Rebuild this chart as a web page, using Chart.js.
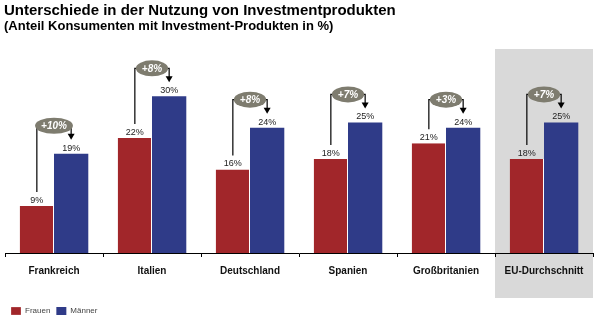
<!DOCTYPE html>
<html><head><meta charset="utf-8">
<script src="https://cdn.jsdelivr.net/npm/chart.js@4"></script>
<style>html,body{margin:0;padding:0;background:#fff}#wrap{width:604px;height:327px;position:relative}</style>
</head><body><div id="wrap"><canvas id="c" width="604" height="327"></canvas></div>
<script>
const categories = ["Frankreich","Italien","Deutschland","Spanien","Großbritanien","EU-Durchschnitt"];
const frauen = [9,22,16,18,21,18];
const maenner = [19,30,24,25,24,25];
const differenz = ["+10%","+8%","+8%","+7%","+3%","+7%"];
const seriesNames = ["Frauen","Männer"];
const titleText = "Unterschiede in der Nutzung von Investmentprodukten";
const subtitleText = "(Anteil Konsumenten mit Investment-Produkten in %)";

const RED = "#A1262A", BLUE = "#2F3B88";

const deco = {
  id: 'deco',
  beforeDraw(chart) {
    const ctx = chart.ctx, x = chart.scales.x;
    const last = categories.length - 1;
    const w = x.getPixelForValue(1) - x.getPixelForValue(0);
    const cx = x.getPixelForValue(last);
    ctx.save();
    ctx.fillStyle = "#D9D9D9";
    ctx.fillRect(cx - w/2, 49, w, 249);
    ctx.restore();
  },
  afterDraw(chart) {
    const ctx = chart.ctx;
    ctx.save();
    ctx.fillStyle = "#000";
    ctx.textBaseline = "alphabetic";
    ctx.textAlign = "left";
    ctx.font = "bold 15px Arial, 'Liberation Sans', sans-serif";
    ctx.fillText(titleText, 4, 15);
    ctx.font = "bold 13px Arial, 'Liberation Sans', sans-serif";
    ctx.fillText(subtitleText, 4, 30);
    ctx.font = "9px Arial, 'Liberation Sans', sans-serif";
    ctx.fillStyle = "#222";
    ctx.textAlign = "center";
    const m0 = chart.getDatasetMeta(0).data, m1 = chart.getDatasetMeta(1).data;
    const ds = chart.data.datasets;
    m0.forEach((b,i)=>{ ctx.fillText(ds[0].data[i] + "%", b.x, b.y - 3); });
    m1.forEach((b,i)=>{ ctx.fillText(ds[1].data[i] + "%", b.x, b.y - 3); });
    m0.forEach((b,i)=>{
      const bb = m1[i];
      const by = bb.y - 28;
      const mx = (b.x + bb.x)/2;
      ctx.font = "italic bold 10px Arial, 'Liberation Sans', sans-serif";
      const tw = ctx.measureText(differenz[i]).width;
      const rx = tw/2 + 6, ry = 8;
      ctx.strokeStyle = "#000"; ctx.lineWidth = 1.2;
      ctx.beginPath();
      ctx.moveTo(b.x, b.y - 14);
      ctx.lineTo(b.x, by);
      ctx.lineTo(mx - rx + 1, by);
      ctx.moveTo(mx + rx - 1, by);
      ctx.lineTo(bb.x, by);
      ctx.lineTo(bb.x, bb.y - 19);
      ctx.stroke();
      ctx.fillStyle = "#000";
      ctx.beginPath();
      ctx.moveTo(bb.x - 3.5, bb.y - 20);
      ctx.lineTo(bb.x + 3.5, bb.y - 20);
      ctx.lineTo(bb.x, bb.y - 14);
      ctx.closePath(); ctx.fill();
      ctx.fillStyle = "#7E7C6F";
      ctx.beginPath();
      ctx.ellipse(mx, by, rx, ry, 0, 0, Math.PI*2);
      ctx.fill();
      ctx.fillStyle = "#fff";
      ctx.textBaseline = "middle";
      ctx.fillText(differenz[i], mx, by + 0.5);
      ctx.textBaseline = "alphabetic";
    });
    ctx.restore();
  }
};

new Chart(document.getElementById('c'), {
  type: 'bar',
  data: {
    labels: categories,
    datasets: [
      { label: seriesNames[0], data: frauen, backgroundColor: RED, borderColor: "#fff", borderWidth: {right:1}, borderSkipped: 'bottom' },
      { label: seriesNames[1], data: maenner, backgroundColor: BLUE }
    ]
  },
  options: {
    responsive: false,
    animation: false,
    layout: { padding: { top: 65, left: 5, right: 11, bottom: 2 } },
    datasets: { bar: { categoryPercentage: 0.7, barPercentage: 1.0 } },
    plugins: {
      legend: {
        position: 'bottom', align: 'start',
        labels: { boxWidth: 10, boxHeight: 8, padding: 6, color: "#444",
                  font: { size: 8, family: "Arial, 'Liberation Sans', sans-serif" } }
      },
      tooltip: { enabled: false }
    },
    scales: {
      x: {
        afterFit(s) { s.height += 16; },
        grid: { drawOnChartArea: false, drawTicks: true, tickLength: 4, color: "#000", offset: true },
        border: { color: "#000", width: 1 },
        ticks: { color: "#111", padding: 8, font: { size: 10, weight: 'bold', family: "Arial, 'Liberation Sans', sans-serif" } }
      },
      y: { display: false, min: 0, max: 36 }
    }
  },
  plugins: [deco]
});
</script></body></html>
